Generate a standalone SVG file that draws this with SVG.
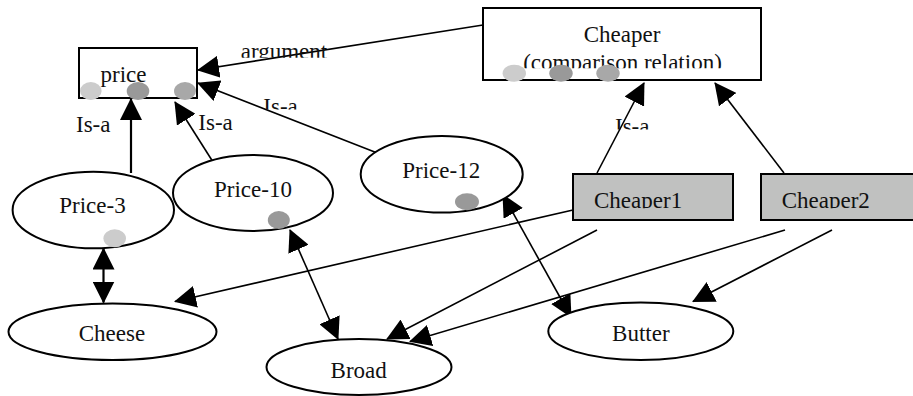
<svg xmlns="http://www.w3.org/2000/svg" width="913" height="396" viewBox="0 0 913 396">
<style>
text{font-family:"Liberation Serif","Times New Roman",serif;font-size:23px;fill:#111}
.c{text-anchor:middle}
.box{fill:#fff;stroke:#000;stroke-width:2}
.gbox{fill:#c0c1c0;stroke:#000;stroke-width:2}
.ell{fill:#fff;stroke:#000;stroke-width:2}
.ln{stroke:#000;stroke-width:1.6;fill:none;marker-end:url(#ah)}
.thick{stroke-width:2.2}
.dbl{marker-start:url(#ah)}
.d1{fill:#cccccc}
.d2{fill:#999999}
.d3{fill:#a8a8a8}
</style>
<defs>
<marker id="ah" viewBox="0 0 22 22" refX="21" refY="11" markerWidth="22" markerHeight="22" markerUnits="userSpaceOnUse" orient="auto-start-reverse">
<path d="M0,0 L22,11 L0,22 z" fill="#000"/>
</marker>
<clipPath id="clipArg" clipPathUnits="userSpaceOnUse"><rect x="200" y="30" width="160" height="27.7"/></clipPath>
<clipPath id="clipIsa12" clipPathUnits="userSpaceOnUse"><rect x="250" y="90" width="70" height="19.5"/></clipPath>
<clipPath id="clipIsaC" clipPathUnits="userSpaceOnUse"><rect x="600" y="110" width="70" height="19.5"/></clipPath>
<clipPath id="clipComp" clipPathUnits="userSpaceOnUse"><rect x="490" y="45" width="260" height="23.3"/></clipPath>
<clipPath id="clipC1" clipPathUnits="userSpaceOnUse"><rect x="575" y="176" width="156" height="32.3"/></clipPath>
<clipPath id="clipC2" clipPathUnits="userSpaceOnUse"><rect x="763" y="176" width="150" height="32.3"/></clipPath>
</defs>

<g id="connectors">
<line class="ln" x1="483" y1="25" x2="198" y2="70"/>
<line class="ln thick" x1="131" y1="173" x2="131" y2="99"/>
<line class="ln" x1="220" y1="173" x2="175" y2="102"/>
<line class="ln" x1="385" y1="156" x2="198" y2="83"/>
<line class="ln" x1="597" y1="173" x2="644" y2="83"/>
<line class="ln" x1="784" y1="173" x2="715" y2="83"/>
<line class="ln thick dbl" x1="103.5" y1="248.5" x2="103.5" y2="302.5"/>
<line class="ln dbl" x1="290" y1="230" x2="338" y2="339"/>
<line class="ln dbl" x1="503" y1="195" x2="571" y2="317"/>
<line class="ln" x1="573" y1="210" x2="175" y2="301.5"/>
<line class="ln" x1="597" y1="230" x2="387" y2="339"/>
<line class="ln" x1="785" y1="230" x2="410" y2="341.5"/>
<line class="ln" x1="832" y1="230" x2="693" y2="301.5"/>
<text x="240.7" y="58.6" clip-path="url(#clipArg)">argument</text>
<text x="76" y="131.8">Is-a</text>
<text x="198.3" y="130.2">Is-a</text>
<text x="263.3" y="113.5" clip-path="url(#clipIsa12)">Is-a</text>
<text x="615" y="133.5" clip-path="url(#clipIsaC)">Is-a</text>
</g>

<g id="price">
<rect class="box" x="79" y="48" width="118" height="50"/>
<text class="c" x="123.5" y="82">price</text>
<ellipse class="d1" cx="90.8" cy="91" rx="10.8" ry="9"/>
<ellipse class="d2" cx="138" cy="91" rx="11.3" ry="9"/>
<ellipse class="d3" cx="185" cy="91" rx="11" ry="9"/>
</g>

<g id="cheaper">
<rect class="box" x="483" y="8" width="278" height="72"/>
<text class="c" x="622" y="42">Cheaper</text>
<text class="c" x="622.5" y="70" clip-path="url(#clipComp)">(comparison relation)</text>
<ellipse class="d1" cx="514.3" cy="73.3" rx="11.7" ry="8.5"/>
<ellipse class="d2" cx="561" cy="73.3" rx="11.7" ry="8.5"/>
<ellipse class="d3" cx="608" cy="73.3" rx="11.7" ry="8.5"/>
</g>

<g id="cheaper1">
<rect class="gbox" x="573" y="174" width="160" height="46"/>
<text x="594" y="207.5" clip-path="url(#clipC1)">Cheaper1</text>
</g>

<g id="cheaper2">
<rect class="gbox" x="761" y="174" width="162" height="46"/>
<text x="781.7" y="207.5" clip-path="url(#clipC2)">Cheaper2</text>
</g>

<g id="price3">
<ellipse class="ell" cx="93.3" cy="210" rx="80.7" ry="38.3"/>
<text class="c" x="92.5" y="212.7">Price-3</text>
<ellipse class="d1" cx="114.7" cy="238.3" rx="11.3" ry="9"/>
</g>

<g id="price10">
<ellipse class="ell" cx="253" cy="193" rx="80" ry="38"/>
<text class="c" x="253" y="196.7">Price-10</text>
<ellipse class="d2" cx="278.8" cy="220" rx="11" ry="9"/>
</g>

<g id="price12">
<ellipse class="ell" cx="441.7" cy="174.3" rx="81" ry="38.3"/>
<text class="c" x="441.2" y="178.3">Price-12</text>
<ellipse class="d2" cx="467" cy="201.7" rx="12" ry="8.5"/>
</g>

<g id="cheese">
<ellipse class="ell" cx="112.5" cy="331.7" rx="104" ry="28.3"/>
<text class="c" x="112" y="341">Cheese</text>
</g>

<g id="broad">
<ellipse class="ell" cx="359" cy="367" rx="92.5" ry="28"/>
<text class="c" x="358.7" y="377.7">Broad</text>
</g>

<g id="butter">
<ellipse class="ell" cx="640.8" cy="331.3" rx="92.5" ry="28.7"/>
<text class="c" x="640.8" y="341">Butter</text>
</g>
</svg>
